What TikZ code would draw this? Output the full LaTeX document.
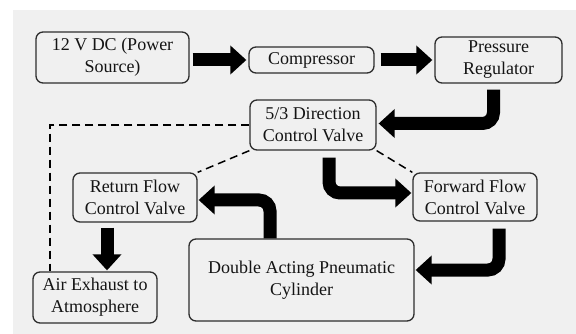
\documentclass[tikz,border=0pt]{standalone}
\usepackage{fontspec}
\setmainfont{Liberation Serif}
\usepackage{tikz}
\usetikzlibrary{
    arrows.meta,
    calc,
    positioning
}
\definecolor{bggray}{RGB}{240,240,240}
\definecolor{edgegray}{RGB}{45,45,45}
\definecolor{textgray}{RGB}{20,20,20}
\tikzset{
    box/.style={draw=edgegray, line width=1.3pt, rounded corners=7pt,
        inner sep=0pt, align=center, text=textgray,
        font=\fontsize{18}{22}\selectfont},
    flow/.style={line width=13pt, rounded corners=11pt,
        -{Triangle[length=16pt, width=28pt]}},
    signal/.style={line width=1.5pt, dash pattern=on 8pt off 5pt}
}

\begin{document}
\begin{tikzpicture}[x=1pt, y=-1pt]
    \useasboundingbox (0, 0) rectangle (576, 334);
    \fill[bggray] (13, 10) rectangle (576, 334);

    % blocks
    \node[box, minimum width=153pt, minimum height=51pt] (power) at (112.5, 57.5) {12 V DC (Power\\Source)};
    \node[box, minimum width=125pt, minimum height=26pt] (compressor) at (311.5, 60) {Compressor};
    \node[box, minimum width=127pt, minimum height=46pt] (regulator) at (498.5, 60) {Pressure\\Regulator};
    \node[box, minimum width=126pt, minimum height=50pt] (dcv) at (313, 125) {5/3 Direction\\Control Valve};
    \node[box, minimum width=124pt, minimum height=49pt] (retflow) at (135, 197.5) {Return Flow\\Control Valve};
    \node[box, minimum width=124pt, minimum height=48pt] (fwdflow) at (475, 197) {Forward Flow\\Control Valve};
    \node[box, minimum width=225pt, minimum height=82pt] (cylinder) at (301.5, 280) {Double Acting Pneumatic\\Cylinder};
    \node[box, minimum width=124pt, minimum height=51pt] (exhaust) at (95, 297.5) {Air Exhaust to\\Atmosphere};

    % air flow
    \draw[flow, shorten <=3pt, shorten >=2pt] (power.east |- compressor.west) -- (compressor.west);
    \draw[flow, shorten <=6pt, shorten >=2pt] (compressor.east) -- (regulator.west);
    \draw[flow, shorten <=6pt, shorten >=2pt] ([xshift=-5pt]regulator.south) |- ([yshift=1.5pt]dcv.east);
    \draw[flow, shorten <=7pt, shorten >=1pt] ([xshift=16pt]dcv.south) |- ([yshift=4pt]fwdflow.west);
    \draw[flow, shorten <=7pt, shorten >=1pt] ([xshift=24pt]fwdflow.south) |- ([yshift=10pt]cylinder.east);
    \draw[flow, shorten >=1pt] ([xshift=-31.5pt]cylinder.north) |- ([yshift=-2.5pt]retflow.east);
    \draw[flow, shorten <=5pt, shorten >=1pt] ([xshift=-28pt]retflow.south) -- ([xshift=12pt]exhaust.north);

    % control lines
    \draw[signal] (dcv.west) -| ([xshift=-45pt]exhaust.north);
    \draw[signal] (dcv.south west) -- (retflow.north east);
    \draw[signal] (dcv.south east) -- (fwdflow.north west);
\end{tikzpicture}
\end{document}
